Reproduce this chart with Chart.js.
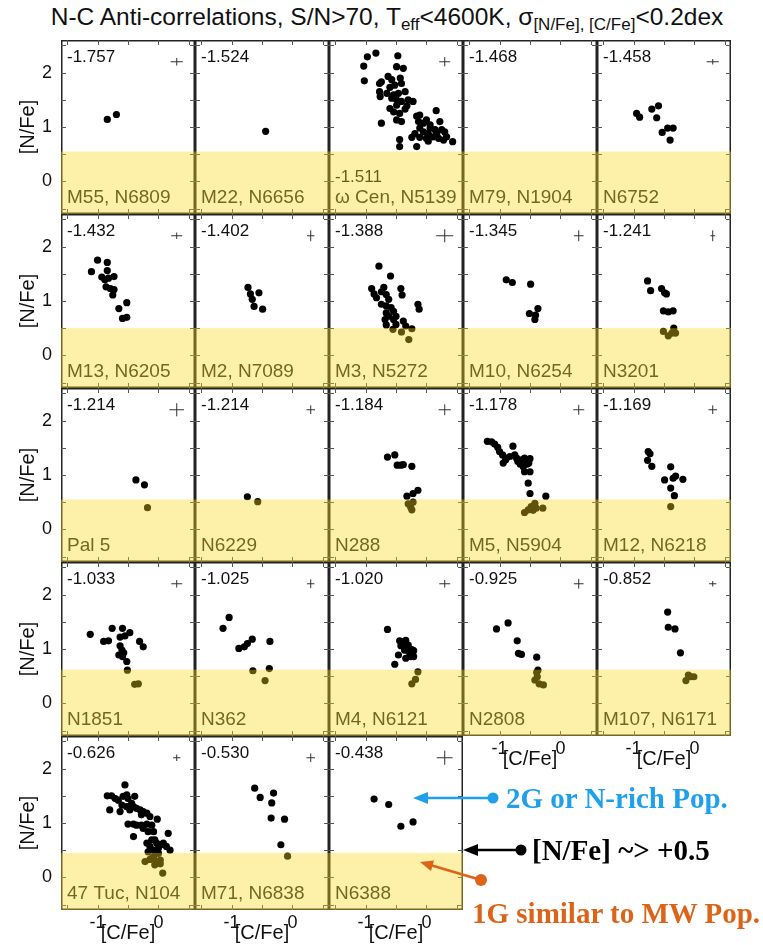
<!DOCTYPE html>
<html>
<head>
<meta charset="utf-8">
<script src="https://cdn.jsdelivr.net/npm/chart.js@4.4.1/dist/chart.umd.min.js"></script>
<style>
  body { margin: 0; background: #fff; }
  #fig { position: relative; width: 763px; height: 945px; overflow: hidden; font-family: "Liberation Sans", Arial, sans-serif; }
  .cell { position: absolute; }
  .title { position: absolute; left: 0; top: 4px; width: 774px; text-align: center; font-size: 24.5px; line-height: 26px; white-space: nowrap; color: #111; }
  .title sub { font-size: 17px; vertical-align: -5px; line-height: 0; }
  .note { position: absolute; font-family: "Liberation Serif", "Times New Roman", serif; font-weight: bold; font-size: 29px; line-height: 30px; white-space: nowrap; }
  svg { position: absolute; left: 0; top: 0; }
</style>
</head>
<body>
<div id="fig">
  <div class="title">N-C Anti-correlations, S/N&gt;70, T<sub>eff</sub>&lt;4600K, σ<sub>[N/Fe], [C/Fe]</sub>&lt;0.2dex</div>
</div>
<script>
// cluster labels, metallicity, [N/Fe] level of the yellow band per row
const names = ['M55, N6809', 'M22, N6656', 'ω Cen, N5139', 'M79, N1904', 'N6752',
  'M13, N6205', 'M2, N7089', 'M3, N5272', 'M10, N6254', 'N3201',
  'Pal 5', 'N6229', 'N288', 'M5, N5904', 'M12, N6218',
  'N1851', 'N362', 'M4, N6121', 'N2808', 'M107, N6171',
  '47 Tuc, N104', 'M71, N6838', 'N6388'];
const feh = ['-1.757', '-1.524', '-1.511', '-1.468', '-1.458',
  '-1.432', '-1.402', '-1.388', '-1.345', '-1.241',
  '-1.214', '-1.214', '-1.184', '-1.178', '-1.169',
  '-1.033', '-1.025', '-1.020', '-0.925', '-0.852',
  '-0.626', '-0.530', '-0.438'];
const bandTop = [0.55, 0.5, 0.55, 0.62, 0.45];
// typical errors shown as the cross (0 = none)
const errC = [0.1, 0, 0.09, 0, 0.1, 0.09, 0.06, 0.14, 0.08, 0.04, 0.12, 0.07, 0.1, 0.09, 0.07,
  0.09, 0.06, 0.09, 0.08, 0.06, 0.06, 0.07, 0.13];
const errN = [0.07, 0, 0.085, 0, 0.05, 0.06, 0.1, 0.12, 0.1, 0.1, 0.12, 0.08, 0.1, 0.09, 0.08,
  0.07, 0.08, 0.07, 0.09, 0.05, 0.06, 0.08, 0.13];
const xTicks = [-1.5, -1, -0.5, 0, 0.5];
const yTicks = [-0.5, 0, 0.5, 1, 1.5, 2, 2.5];

// [C/Fe], [N/Fe] per star
const m55 = [[-0.84, 1.14], [-0.69, 1.23]];
const m22 = [[-0.44, 0.92]];
const omegaCen = [[-0.97, 2.29], [-0.83, 2.36], [-0.47, 2.31], [-1.03, 2.12], [-0.49, 2.11], [-0.38, 2.08],
  [-1.02, 1.85], [-0.74, 1.83], [-0.77, 1.8], [-0.63, 1.93], [-0.57, 1.87], [-0.43, 1.9], [-0.41, 1.8],
  [-0.52, 1.77], [-0.6, 1.73], [-0.77, 1.65], [-0.65, 1.62], [-0.54, 1.59], [-0.46, 1.62], [-0.35, 1.65],
  [-0.76, 1.56], [-0.57, 1.53], [-0.49, 1.5], [-0.41, 1.47], [-0.3, 1.5], [-0.22, 1.47], [-0.49, 1.4],
  [-0.32, 1.39], [-0.6, 1.34], [-0.54, 1.28], [-0.44, 1.25], [-0.35, 1.33], [-0.74, 1.07], [-0.49, 1.13],
  [-0.41, 1.1], [-0.16, 1.2], [-0.11, 1.22], [0.16, 1.3], [0.0, 1.13], [-0.13, 1.1], [-0.05, 1.07],
  [0.06, 1.04], [0.22, 1.1], [-0.11, 0.98], [0.06, 0.98], [0.14, 0.95], [0.25, 0.95], [-0.19, 0.88],
  [-0.05, 0.91], [0.03, 0.88], [0.17, 0.88], [0.3, 0.91], [-0.24, 0.81], [-0.11, 0.81], [0.0, 0.79],
  [0.11, 0.82], [0.2, 0.79], [0.33, 0.82], [0.43, 0.73], [-0.44, 0.77], [-0.44, 0.64], [-0.16, 0.64],
  [0.03, 0.74], [0.28, 0.76]];
const m79 = [];
const n6752 = [[-0.95, 1.25], [-0.9, 1.18], [-0.7, 1.33], [-0.59, 1.39], [-0.62, 1.17], [-0.53, 0.9],
  [-0.44, 0.98], [-0.35, 0.98], [-0.4, 0.76]];
const m13 = [[-1.1, 1.54], [-1.0, 1.75], [-0.93, 1.44], [-0.88, 1.39], [-0.84, 1.71], [-0.84, 1.56],
  [-0.86, 1.26], [-0.82, 1.42], [-0.73, 1.45], [-0.79, 1.23], [-0.73, 1.21], [-0.75, 1.11], [-0.65, 0.86],
  [-0.52, 0.97], [-0.59, 0.68], [-0.52, 0.7]];
const m2 = [[-0.73, 1.25], [-0.69, 1.13], [-0.66, 1.03], [-0.63, 0.9], [-0.55, 1.15], [-0.49, 0.85]];
const m3 = [[-0.78, 1.64], [-0.59, 1.46], [-0.9, 1.23], [-0.86, 1.13], [-0.74, 1.17], [-0.7, 1.25],
  [-0.82, 1.06], [-0.66, 1.12], [-0.62, 1.03], [-0.74, 0.94], [-0.66, 0.91], [-0.58, 0.88], [-0.54, 0.81],
  [-0.66, 0.78], [-0.62, 0.72], [-0.5, 0.72], [-0.68, 0.66], [-0.54, 0.66], [-0.42, 1.23], [-0.4, 1.11],
  [-0.66, 0.56], [-0.5, 0.57], [-0.38, 0.63], [-0.34, 0.54], [-0.24, 0.49], [-0.14, 0.94], [-0.12, 0.85],
  [-0.55, 0.48], [-0.41, 0.43], [-0.29, 0.29]];
const m10 = [[-0.89, 1.39], [-0.79, 1.34], [-0.49, 1.31], [-0.51, 0.77], [-0.41, 0.74], [-0.37, 0.86], [-0.42, 0.66]];
const n3201 = [[-0.77, 1.37], [-0.72, 1.19], [-0.54, 1.23], [-0.49, 1.15], [-0.46, 1.13], [-0.51, 0.82],
  [-0.43, 0.8], [-0.35, 0.82], [-0.34, 0.5], [-0.51, 0.44], [-0.43, 0.36], [-0.37, 0.41], [-0.31, 0.41]];
const pal5 = [[-0.37, 0.91], [-0.23, 0.82], [-0.18, 0.4]];
const n6229 = [[-0.74, 0.6], [-0.57, 0.51]];
const n288 = [[-0.64, 1.33], [-0.52, 1.37], [-0.48, 1.18], [-0.42, 1.18], [-0.38, 1.19], [-0.24, 1.16],
  [-0.32, 0.61], [-0.22, 0.66], [-0.14, 0.72], [-0.3, 0.47], [-0.26, 0.41], [-0.22, 0.5], [-0.24, 0.36]];
const m5 = [[-1.2, 1.62], [-1.13, 1.61], [-1.08, 1.57], [-1.03, 1.51], [-1.0, 1.43], [-0.95, 1.37],
  [-0.94, 1.22], [-0.89, 1.31], [-0.83, 1.34], [-0.78, 1.53], [-0.75, 1.37], [-0.72, 1.31], [-0.7, 1.25],
  [-0.64, 1.28], [-0.59, 1.31], [-0.61, 1.15], [-0.59, 1.06], [-0.5, 1.06], [-0.53, 0.85], [-0.5, 0.66],
  [-0.24, 0.61], [-0.9, 1.28], [-0.66, 1.2], [-0.55, 1.2], [-0.5, 1.3], [-0.52, 1.22],
  [-0.59, 0.31], [-0.53, 0.36], [-0.48, 0.42], [-0.42, 0.48], [-0.4, 0.39], [-0.45, 0.35], [-0.29, 0.39]];
const m12 = [[-0.76, 1.43], [-0.73, 1.39], [-0.77, 1.27], [-0.7, 1.16], [-0.39, 1.15], [-0.49, 0.91],
  [-0.35, 0.94], [-0.31, 0.98], [-0.19, 0.92], [-0.39, 0.76], [-0.33, 0.62], [-0.39, 0.42]];
const n1851 = [[-1.12, 1.27], [-0.9, 1.14], [-0.82, 1.15], [-0.76, 1.38], [-0.63, 1.22], [-0.59, 1.38],
  [-0.55, 1.24], [-0.47, 1.3], [-0.63, 1.06], [-0.6, 0.98], [-0.57, 0.93], [-0.65, 0.89], [-0.59, 0.86],
  [-0.52, 0.77], [-0.31, 1.14], [-0.25, 1.04], [-0.51, 0.61], [-0.39, 0.35], [-0.33, 0.36]];
const n362 = [[-1.14, 1.38], [-1.04, 1.58], [-0.88, 1.01], [-0.79, 1.04], [-0.74, 1.1], [-0.66, 1.18],
  [-0.37, 1.14], [-0.65, 0.6], [-0.45, 0.42], [-0.38, 0.64]];
const m4 = [[-0.64, 1.36], [-0.52, 0.72], [-0.44, 1.15], [-0.38, 1.13], [-0.34, 1.16], [-0.42, 1.06],
  [-0.46, 0.89], [-0.36, 0.98], [-0.32, 1.03], [-0.29, 0.95], [-0.24, 0.99], [-0.21, 0.97], [-0.34, 0.83],
  [-0.26, 0.86], [-0.21, 0.86], [-0.3, 1.07], [-0.24, 0.36], [-0.18, 0.44], [-0.14, 0.58]];
const n2808 = [[-1.05, 1.37], [-0.86, 1.48], [-0.71, 1.15], [-0.69, 0.92], [-0.64, 0.9], [-0.39, 0.85],
  [-0.37, 0.61], [-0.39, 0.57], [-0.42, 0.43], [-0.35, 0.36], [-0.28, 0.34], [-0.38, 0.49]];
const m107 = [[-0.44, 1.68], [-0.43, 1.4], [-0.32, 1.37], [-0.23, 0.93], [-0.14, 0.42], [-0.1, 0.52],
  [-0.01, 0.49], [-0.06, 0.49]];
const tuc47 = [[-0.84, 1.5], [-0.77, 1.5], [-0.8, 1.24], [-0.71, 1.45], [-0.66, 1.42], [-0.63, 1.21],
  [-0.55, 1.7], [-0.58, 1.49], [-0.52, 1.52], [-0.5, 1.45], [-0.44, 1.36], [-0.39, 1.49], [-0.6, 1.33],
  [-0.52, 1.3], [-0.47, 1.24], [-0.41, 1.3], [-0.36, 1.27], [-0.3, 1.24], [-0.25, 1.21], [-0.28, 1.15],
  [-0.19, 1.18], [-0.14, 1.12], [-0.5, 0.98], [-0.41, 0.98], [-0.36, 0.96], [-0.28, 0.96], [-0.19, 0.98],
  [-0.11, 0.96], [-0.02, 1.07], [-0.41, 0.75], [-0.25, 0.9], [-0.17, 0.84], [-0.08, 0.84], [-0.11, 0.69],
  [-0.06, 0.69], [-0.19, 0.63], [-0.14, 0.57], [-0.03, 0.63], [0.05, 0.6], [0.08, 0.63], [0.16, 0.81],
  [0.19, 0.5], [0.13, 0.57], [-0.17, 0.47], [-0.08, 0.5], [0.0, 0.54], [-0.22, 0.29], [-0.14, 0.33],
  [-0.08, 0.38], [-0.03, 0.29], [0.03, 0.32], [-0.11, 0.35], [0.0, 0.44], [-0.06, 0.23], [0.03, 0.25],
  [0.07, 0.08]];
const m71 = [[-0.62, 1.64], [-0.53, 1.47], [-0.31, 1.55], [-0.34, 1.37], [-0.35, 1.09], [-0.13, 1.07],
  [-0.19, 0.6], [-0.08, 0.39]];
const n6388 = [[-0.86, 1.44], [-0.62, 1.34], [-0.42, 0.94], [-0.22, 1.02]];
const stars = [m55, m22, omegaCen, m79, n6752, m13, m2, m3, m10, n3201, pal5, n6229, n288, m5, m12,
  n1851, n362, m4, n2808, m107, tuc47, m71, n6388];

const X0 = 61, Y0 = 40, PW = 134, PH = 174, YW = 61, XH = 35;
const sans = '"Liberation Sans", Arial, sans-serif';

const panelDecor = {
  id: 'panelDecor',
  afterDatasetsDraw(chart, args, o) {
    const {ctx, chartArea: a, scales: {x, y}} = chart;
    ctx.save();
    ctx.strokeStyle = '#222';
    ctx.lineWidth = 1.5;
    ctx.strokeRect(a.left + 0.75, a.top + 0.75, a.width - 1.5, a.height - 1.5);
    ctx.lineWidth = 1;
    ctx.strokeStyle = '#555';
    ctx.beginPath();
    xTicks.forEach(v => {
      const px = Math.round(x.getPixelForValue(v)) + 0.5;
      ctx.moveTo(px, a.top); ctx.lineTo(px, a.top + 5);
      ctx.moveTo(px, a.bottom); ctx.lineTo(px, a.bottom - 5);
    });
    yTicks.forEach(v => {
      const py = Math.round(y.getPixelForValue(v)) + 0.5;
      ctx.moveTo(a.left, py); ctx.lineTo(a.left + 5, py);
      ctx.moveTo(a.right, py); ctx.lineTo(a.right - 5, py);
    });
    ctx.stroke();
    if (o.ex > 0) {
      ctx.strokeStyle = '#333';
      ctx.beginPath();
      const cx = x.getPixelForValue(0.3), cy = y.getPixelForValue(2.2);
      ctx.moveTo(x.getPixelForValue(0.3 - o.ex), cy); ctx.lineTo(x.getPixelForValue(0.3 + o.ex), cy);
      ctx.moveTo(cx, y.getPixelForValue(2.2 - o.ey)); ctx.lineTo(cx, y.getPixelForValue(2.2 + o.ey));
      ctx.stroke();
    }
    ctx.fillStyle = '#111';
    ctx.textBaseline = 'middle';
    ctx.font = '17px ' + sans;
    ctx.fillText(o.feh, a.left + 6, o.low ? a.bottom - 37 : a.top + 17);
    ctx.fillStyle = '#222';
    ctx.font = '19px ' + sans;
    ctx.fillText(o.name, a.left + 6, a.bottom - 16);
    const yb = y.getPixelForValue(o.band);
    ctx.fillStyle = 'rgba(250, 216, 26, 0.38)';
    ctx.fillRect(a.left, yb, a.width, a.bottom - yb);
    ctx.restore();
  }
};

function noPad(s) {
  s.paddingTop = 0; s.paddingBottom = 0; s.paddingLeft = 0; s.paddingRight = 0;
}

const fig = document.getElementById('fig');
names.forEach((name, i) => {
  const r = Math.floor(i / 5), c = i % 5;
  const hasY = c === 0;
  const hasX = r === 4 || (r === 3 && c >= 3);
  const box = document.createElement('div');
  box.className = 'cell';
  box.style.left = (X0 + c * PW - (hasY ? YW : 0)) + 'px';
  box.style.top = (Y0 + r * PH) + 'px';
  box.style.width = (PW + (hasY ? YW : 0)) + 'px';
  box.style.height = (PH + (hasX ? XH : 0)) + 'px';
  const cv = document.createElement('canvas');
  box.appendChild(cv);
  fig.appendChild(box);
  new Chart(cv, {
    type: 'scatter',
    data: {
      datasets: [{
        data: stars[i].map(p => ({x: p[0], y: p[1]})),
        pointRadius: 3.6,
        pointBackgroundColor: '#000',
        pointBorderWidth: 0
      }]
    },
    options: {
      responsive: true,
      maintainAspectRatio: false,
      animation: false,
      devicePixelRatio: 1,
      layout: {padding: 0, autoPadding: false},
      events: [],
      plugins: {
        legend: {display: false},
        tooltip: {enabled: false},
        panelDecor: {name: name, feh: feh[i], low: i === 2, band: bandTop[r], ex: errC[i], ey: errN[i]}
      },
      scales: {
        x: {
          type: 'linear', min: -1.6, max: 0.6, display: hasX,
          grid: {display: false, drawTicks: false}, border: {display: false},
          afterBuildTicks: s => { s.ticks = [{value: -1}, {value: 0}]; },
          afterFit: s => { s.height = hasX ? XH : 0; noPad(s); },
          ticks: {color: '#111', padding: 2, maxRotation: 0, font: {family: sans, size: 18}},
          title: {display: true, text: '[C/Fe]', color: '#111', padding: {top: 0, bottom: 0}, font: {family: sans, size: 20}}
        },
        y: {
          type: 'linear', min: -0.6, max: 2.6, display: hasY,
          grid: {display: false, drawTicks: false}, border: {display: false},
          afterBuildTicks: s => { s.ticks = [{value: 0}, {value: 1}, {value: 2}]; },
          afterFit: s => { s.width = hasY ? YW : 0; noPad(s); },
          ticks: {color: '#111', padding: 9, font: {family: sans, size: 18}},
          title: {display: true, text: '[N/Fe]', color: '#111', padding: {top: 16, bottom: 0}, font: {family: sans, size: 20}}
        }
      }
    },
    plugins: [panelDecor]
  });
});
</script>
<svg width="763" height="945">
  <line x1="493" y1="798" x2="426" y2="798" stroke="#1FA0EA" stroke-width="2.5"/>
  <polygon points="413,798 428,792 428,804" fill="#1FA0EA"/>
  <circle cx="493" cy="798" r="5.5" fill="#1FA0EA"/>
  <line x1="521" y1="850" x2="476" y2="850" stroke="#000" stroke-width="2.5"/>
  <polygon points="463,850 478,844 478,856" fill="#000"/>
  <circle cx="521" cy="850" r="5.5" fill="#000"/>
  <line x1="481" y1="880" x2="432" y2="865.5" stroke="#DC6418" stroke-width="2.5"/>
  <polygon points="420,862 434,860.4 431,871" fill="#DC6418"/>
  <circle cx="481" cy="880" r="6" fill="#DC6418"/>
</svg>
<div class="note" style="left:506px; top:783px; color:#1FA0EA;">2G or N-rich Pop.</div>
<div class="note" style="left:532px; top:835px; color:#000;">[N/Fe] ~&gt; +0.5</div>
<div class="note" style="left:472px; top:898px; color:#DC6418;">1G similar to MW Pop.</div>
</body>
</html>
